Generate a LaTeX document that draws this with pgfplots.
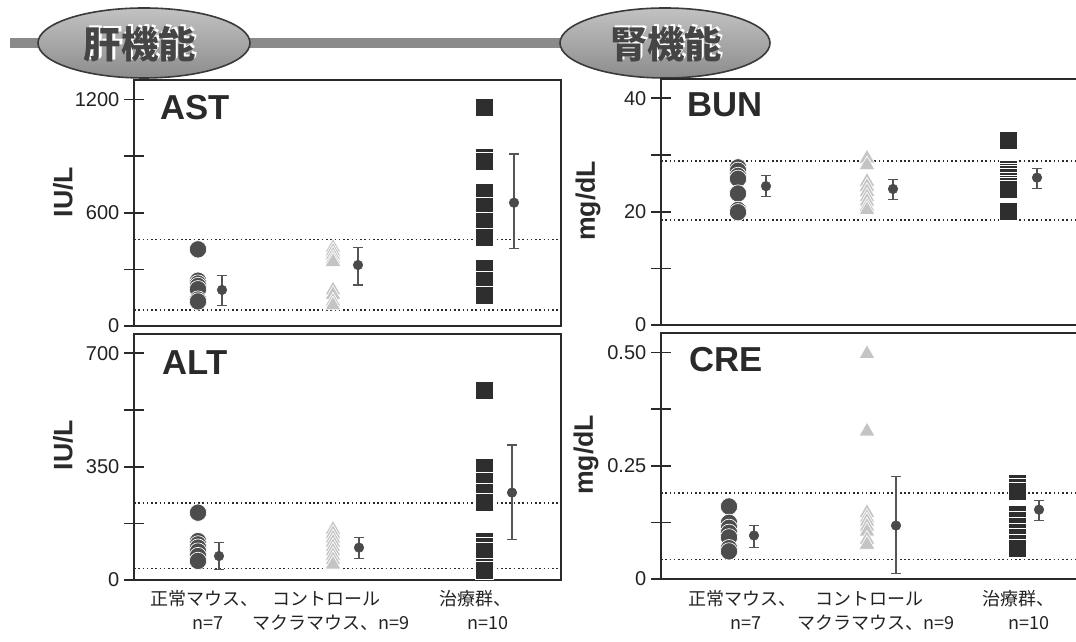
\documentclass[border=0pt]{standalone}
\usepackage{fontspec}
\setmainfont{Liberation Sans}
\setsansfont{Liberation Sans}
\newfontfamily\cjk{Noto Sans CJK JP}
\usepackage{pgfplots}
\pgfplotsset{compat=1.18}
\definecolor{axcol}{HTML}{2A2A2A}
\definecolor{txtcol}{HTML}{222222}
\definecolor{circcol}{HTML}{4D4D4D}
\definecolor{tricol}{HTML}{C4C4C4}
\definecolor{sqcol}{HTML}{2E2E2E}
\definecolor{meancol}{HTML}{4A4A4A}
\definecolor{errcol}{HTML}{555555}
\definecolor{barcol}{HTML}{8A8A8A}
\definecolor{elltop}{HTML}{C2C2C2}
\definecolor{ellbot}{HTML}{8C8C8C}
\definecolor{elldraw}{HTML}{3A3A3A}
\definecolor{headtxt}{HTML}{454545}
\pgfplotsset{
  panel/.style={
    scale only axis, width=320.25pt, height=184.5pt,
    anchor=south west,
    xmin=0, xmax=427, ymin=0,
    xtick=\empty,
    ytick pos=left,
    axis line style={line width=2.2pt, draw=axcol},
    tick align=center,
    major tick length=15pt, minor tick length=15pt,
    major tick style={line width=1.4pt, draw=axcol},
    minor tick style={line width=1.2pt, draw=axcol},
    minor y tick num=1,
    yticklabel style={font=\fontsize{15}{15}\selectfont, text=txtcol},
    /pgf/number format/assume math mode=true,
    clip=false,
  },
  refline/.style={draw=axcol, line width=1.2pt, dash pattern=on 1.2pt off 2pt, forget plot},
  circs/.style={only marks, mark=*, mark size=6.5pt, mark options={fill=circcol, draw=white, line width=0.5pt}},
  tris/.style={only marks, mark=triangle*, mark size=6.9pt, mark options={fill=tricol, draw=white, line width=0.5pt}},
  sqs/.style={only marks, mark=square*, mark size=6.75pt, mark options={fill=sqcol, draw=white, line width=0.5pt}},
  means/.style={only marks, mark=*, mark size=3.6pt, mark options={fill=meancol, draw=meancol},
    error bars/.cd, y dir=both, y explicit,
    error bar style={line width=0.8pt, draw=errcol},
    error mark=-,
    error mark options={rotate=90, mark size=3.75pt, line width=0.8pt, draw=errcol}},
}
\begin{document}
\begin{tikzpicture}[x=0.75pt, y=0.75pt]
\useasboundingbox (0,0) rectangle (1076,642);
\clip (0,0) rectangle (1076,642);

% header
\fill[barcol] (10,594) rectangle (565,604);
\draw[line width=1.2pt, draw=elldraw, top color=elltop, bottom color=ellbot] (144,599) ellipse [x radius=106, y radius=35];
\draw[line width=1.2pt, draw=elldraw, top color=elltop, bottom color=ellbot] (665,599) ellipse [x radius=105, y radius=35];
\node[font=\cjk\bfseries\fontsize{28}{28}\selectfont, text=white] at (142,600) {肝機能};
\node[font=\cjk\bfseries\fontsize{28}{28}\selectfont, text=headtxt] at (140,598) {肝機能};
\node[font=\cjk\bfseries\fontsize{28}{28}\selectfont, text=white] at (668,600) {腎機能};
\node[font=\cjk\bfseries\fontsize{28}{28}\selectfont, text=headtxt] at (666,598) {腎機能};

% AST
\begin{axis}[panel, at={(100.5pt,237pt)}, ymax=1303, ytick={0,600,1200}, yticklabels={0,600,1200}]
\addplot[refline] coordinates {(0,459) (427,459)};
\addplot[refline] coordinates {(0,85) (427,85)};
\addplot[circs] coordinates {(64,406) (64,240) (64,225) (64,212) (64,195) (64,140) (64,130)};
\addplot[tris] coordinates {(199,415) (199,395) (199,375) (199,355) (199,340) (199,190) (199,165) (199,130) (199,110)};
\addplot[sqs] coordinates {(350,1158) (350,895) (350,874) (350,708) (350,632) (350,552) (350,468) (350,305) (350,244) (350,164)};
\addplot[means] coordinates {(88,191) += (0,75) -= (0,83)};
\addplot[means] coordinates {(224,323) += (0,94) -= (0,106)};
\addplot[means] coordinates {(380,653) += (0,258) -= (0,245)};
\end{axis}

% ALT
\begin{axis}[panel, at={(100.5pt,46.5pt)}, ymax=760, ytick={0,350,700}, yticklabels={0,350,700}]
\addplot[refline] coordinates {(0,237) (427,237)};
\addplot[refline] coordinates {(0,35) (427,35)};
\addplot[circs] coordinates {(64,208) (64,120) (64,110) (64,100) (64,88) (64,74) (64,59)};
\addplot[tris] coordinates {(199,156) (199,143) (199,129) (199,116) (199,102) (199,89) (199,75) (199,62) (199,48)};
\addplot[sqs] coordinates {(350,587) (350,347) (350,306) (350,270) (350,239) (350,118) (350,105) (350,90) (350,38) (350,31)};
\addplot[means] coordinates {(85,74) += (0,41) -= (0,41)};
\addplot[means] coordinates {(225,100) += (0,31) -= (0,34)};
\addplot[means] coordinates {(378,270) += (0,147) -= (0,144)};
\end{axis}

% BUN
\begin{axis}[panel, at={(495.75pt,237.75pt)}, ymax=43.4, ytick={0,20,40}, yticklabels={0,20,40}]
\addplot[refline] coordinates {(0,28.9) (427,28.9)};
\addplot[refline] coordinates {(0,18.5) (427,18.5)};
\addplot[circs] coordinates {(77,27.8) (77,27.2) (77,26.3) (77,25.8) (77,23.2) (77,20.3) (77,19.9)};
\addplot[tris] coordinates {(206,29.4) (206,28.2) (206,25.3) (206,24.4) (206,23.5) (206,22.6) (206,21.8) (206,20.9) (206,20.3)};
\addplot[sqs] coordinates {(347,32.5) (347,27.5) (347,27.0) (347,26.5) (347,26.0) (347,25.4) (347,24.9) (347,24.4) (347,23.9) (347,20.0)};
\addplot[means] coordinates {(105,24.5) += (0,1.8) -= (0,1.9)};
\addplot[means] coordinates {(232,24.0) += (0,1.7) -= (0,1.8)};
\addplot[means] coordinates {(376,26.0) += (0,1.6) -= (0,1.9)};
\end{axis}

% CRE
\begin{axis}[panel, at={(495.75pt,47.25pt)}, ymax=0.543, ytick={0,0.25,0.5}, yticklabels={0,0.25,0.50}]
\addplot[refline] coordinates {(0,0.190) (427,0.190)};
\addplot[refline] coordinates {(0,0.043) (427,0.043)};
\addplot[circs] coordinates {(68,0.160) (68,0.124) (68,0.113) (68,0.102) (68,0.092) (68,0.068) (68,0.061)};
\addplot[tris] coordinates {(206,0.497) (206,0.326) (206,0.146) (206,0.135) (206,0.127) (206,0.116) (206,0.105) (206,0.087) (206,0.076)};
\addplot[sqs] coordinates {(356,0.212) (356,0.203) (356,0.193) (356,0.142) (356,0.129) (356,0.116) (356,0.104) (356,0.091) (356,0.079) (356,0.068)};
\addplot[means] coordinates {(93,0.096) += (0,0.022) -= (0,0.026)};
\addplot[means] coordinates {(235,0.118) += (0,0.108) -= (0,0.105)};
\addplot[means] coordinates {(378,0.153) += (0,0.021) -= (0,0.024)};
\end{axis}

% panel titles
\node[anchor=base west, font=\bfseries\fontsize{26}{26}\selectfont, text=axcol] at (156,522) {AST};
\node[anchor=base west, font=\bfseries\fontsize{26}{26}\selectfont, text=axcol] at (158,267) {ALT};
\node[anchor=base west, font=\bfseries\fontsize{26}{26}\selectfont, text=axcol] at (683,525) {BUN};
\node[anchor=base west, font=\bfseries\fontsize{26}{26}\selectfont, text=axcol] at (685,270) {CRE};

% unit labels
\node[rotate=90, font=\bfseries\fontsize{20}{20}\selectfont, text=axcol] at (63,450) {IU/L};
\node[rotate=90, font=\bfseries\fontsize{20}{20}\selectfont, text=axcol] at (63,197) {IU/L};
\node[rotate=90, font=\bfseries\fontsize{20}{20}\selectfont, text=axcol] at (588,441) {mg/dL};
\node[rotate=90, font=\bfseries\fontsize{20}{20}\selectfont, text=axcol] at (586,187) {mg/dL};

% category labels
\begin{scope}[every node/.style={anchor=base west, inner sep=0pt, font=\cjk\fontsize{13.5}{13.5}\selectfont, text=txtcol}]
\node at (150,36) {正常マウス、};
\node at (272,36) {コントロール};
\node at (439,36) {治療群、};
\node at (192,12) {n=7};
\node at (252,12) {マクラマウス、n=9};
\node at (467,12) {n=10};
\node at (688,36) {正常マウス、};
\node at (815,36) {コントロール};
\node at (982,36) {治療群、};
\node at (730,12) {n=7};
\node at (797,12) {マクラマウス、n=9};
\node at (1008,12) {n=10};
\end{scope}
\end{tikzpicture}
\end{document}
